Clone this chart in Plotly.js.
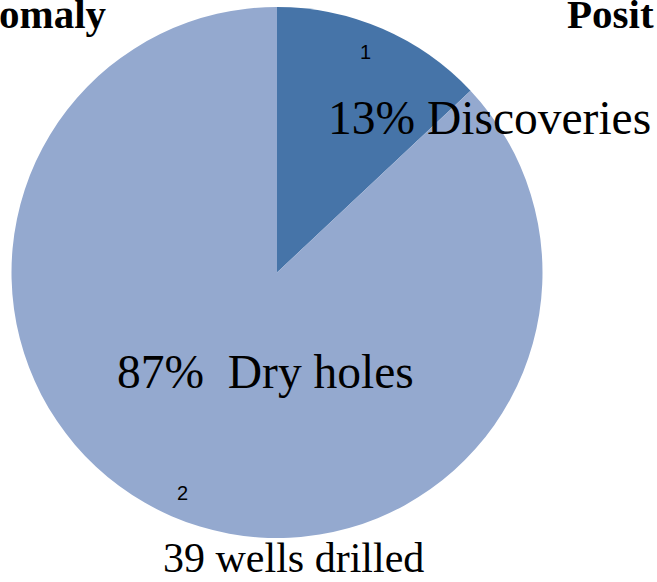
<!DOCTYPE html>
<html>
<head>
<meta charset="utf-8">
<script src="https://cdn.plot.ly/plotly-3.0.1.min.js"></script>
<style>html,body{margin:0;padding:0;background:#fff;overflow:hidden}#chart{width:657px;height:582px}</style>
</head>
<body>
<div id="chart"></div>
<script>
const sliceLabels = ['1', '2'];
const sliceValues = [13, 87];
const sliceNames = ['Discoveries', 'Dry holes'];
const sliceColors = ['#4674A8', '#94A9CF'];
const totalWells = 39;
const leftHeader = 'omaly';
const rightHeader = 'Posit';

const W = 657, H = 582;
const px = x => x / W;
const py = y => 1 - y / H;

const trace = {
  type: 'pie',
  labels: sliceLabels,
  values: sliceValues,
  sort: false,
  direction: 'clockwise',
  rotation: 0,
  textinfo: 'none',
  hoverinfo: 'label+percent',
  marker: {colors: sliceColors, line: {width: 0}},
  domain: {x: [px(11), px(543)], y: [py(538), py(7)]},
  showlegend: false
};

const serif = '"Liberation Serif", "Times New Roman", serif';
const sans = '"Liberation Sans", Arial, sans-serif';
const pct = v => Math.round(v / sliceValues.reduce((a, b) => a + b, 0) * 100) + '%';

const annotations = [
  {text: '<b>' + leftHeader + '</b>', x: px(108), y: py(38), xanchor: 'right', yanchor: 'bottom', font: {family: serif, size: 41, color: '#000'}},
  {text: '<b>' + rightHeader + '</b>', x: px(566), y: py(38), xanchor: 'left', yanchor: 'bottom', font: {family: serif, size: 41, color: '#000'}},
  {text: sliceLabels[0], x: px(365), y: py(52), xanchor: 'center', yanchor: 'middle', font: {family: sans, size: 20, color: '#000'}},
  {text: sliceLabels[1], x: px(182), y: py(493), xanchor: 'center', yanchor: 'middle', font: {family: sans, size: 20, color: '#000'}},
  {text: pct(sliceValues[0]) + ' ' + sliceNames[0], x: px(327), y: py(118), xanchor: 'left', yanchor: 'middle', font: {family: serif, size: 47.5, color: '#000'}},
  {text: pct(sliceValues[1]) + '\u00A0 ' + sliceNames[1], x: px(116), y: py(372), xanchor: 'left', yanchor: 'middle', font: {family: serif, size: 47.5, color: '#000'}},
  {text: totalWells + ' wells drilled', x: px(293.5), y: py(558), xanchor: 'center', yanchor: 'middle', font: {family: serif, size: 42, color: '#000'}}
].map(a => Object.assign({xref: 'paper', yref: 'paper', showarrow: false, borderpad: 0}, a));

const layout = {
  width: W, height: H,
  margin: {l: 0, r: 0, t: 0, b: 0},
  paper_bgcolor: '#fff',
  annotations: annotations
};

Plotly.newPlot('chart', [trace], layout, {displayModeBar: false, staticPlot: true});
</script>
</body>
</html>
